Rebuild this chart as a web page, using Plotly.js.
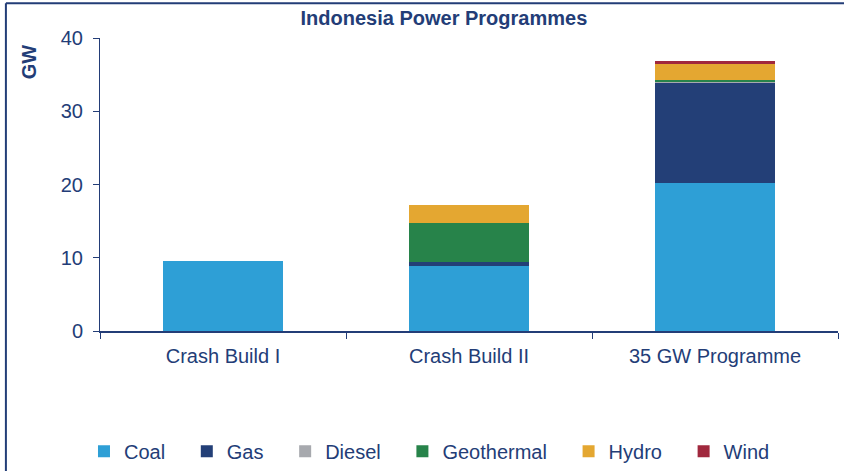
<!DOCTYPE html>
<html><head><meta charset="utf-8">
<script src="https://cdn.plot.ly/plotly-3.0.1.min.js"></script>
<style>body{margin:0;padding:0;background:#fff}#chart{width:844px;height:471px}</style>
</head><body><div id="chart"></div>
<script>
const categories = ["Crash Build I", "Crash Build II", "35 GW Programme"];
const coal = [9.5, 8.9, 20.2];
const gas = [0, 0.5, 13.7];
const diesel = [0, 0, 0.1];
const geothermal = [0, 5.4, 0.2];
const hydro = [0, 2.4, 2.3];
const wind = [0, 0, 0.3];
const seriesNames = ["Coal", "Gas", "Diesel", "Geothermal", "Hydro", "Wind"];
const seriesColors = ["#2e9fd6", "#233f77", "#a7a9ae", "#27834a", "#e4a731", "#a0283d"];
const seriesValues = [coal, gas, diesel, geothermal, hydro, wind];
const navy = "#233d77";
const font = "Liberation Sans, Arial, sans-serif";
const pad = "\u00a0\u00a0\u00a0";

const traces = seriesNames.map((n, i) => ({
  type: "bar", name: n + pad, x: categories, y: seriesValues[i],
  marker: {color: seriesColors[i], line: {width: 0}},
  width: 0.49, hoverinfo: "x+y"
}));

const layout = {
  width: 844, height: 471,
  margin: {l: 100, r: 6, t: 38, b: 140, autoexpand: false},
  barmode: "stack",
  paper_bgcolor: "#fff", plot_bgcolor: "#fff",
  font: {family: font, color: navy, size: 20},
  title: {text: "<b>Indonesia Power Programmes</b>", font: {family: font, size: 20, color: navy},
          xref: "paper", x: 0.466, xanchor: "center", yref: "container", y: 0.962, yanchor: "middle"},
  xaxis: {type: "category", range: [-0.5, 2.5], showline: true, linecolor: navy, linewidth: 2,
          ticks: "outside", tickson: "boundaries", ticklen: 6, tickcolor: navy, tickwidth: 1,
          ticklabelstandoff: 6,
          showgrid: false, zeroline: false, tickfont: {size: 20, color: navy, family: font}},
  yaxis: {range: [0, 40], dtick: 10, showline: true, linecolor: navy, linewidth: 1,
          ticks: "outside", ticklen: 6, tickcolor: navy, showgrid: false, zeroline: false,
          ticklabelstandoff: 6,
          tickfont: {size: 20, color: navy, family: font}},
  showlegend: true,
  legend: {orientation: "h", x: -0.0217, xanchor: "left", y: -0.41, yanchor: "middle",
           font: {size: 20, color: navy, family: font}, traceorder: "normal", itemwidth: 30,
           bgcolor: "rgba(0,0,0,0)"},
  annotations: [{text: "<b>GW</b>", xref: "paper", yref: "paper", x: -0.095, y: 0.92,
                 xanchor: "center", yanchor: "middle", textangle: -90, showarrow: false,
                 font: {size: 20, color: navy, family: font}}],
  shapes: [
    {type: "line", xref: "paper", yref: "paper", x0: -0.1275, x1: 1.02, y0: 1.119, y1: 1.119, line: {color: navy, width: 2}},
    {type: "line", xref: "paper", yref: "paper", x0: -0.1275, x1: -0.1275, y0: 1.119, y1: -0.48, line: {color: navy, width: 2}}
  ]
};
Plotly.newPlot("chart", traces, layout, {displayModeBar: false, staticPlot: true});
</script></body></html>
